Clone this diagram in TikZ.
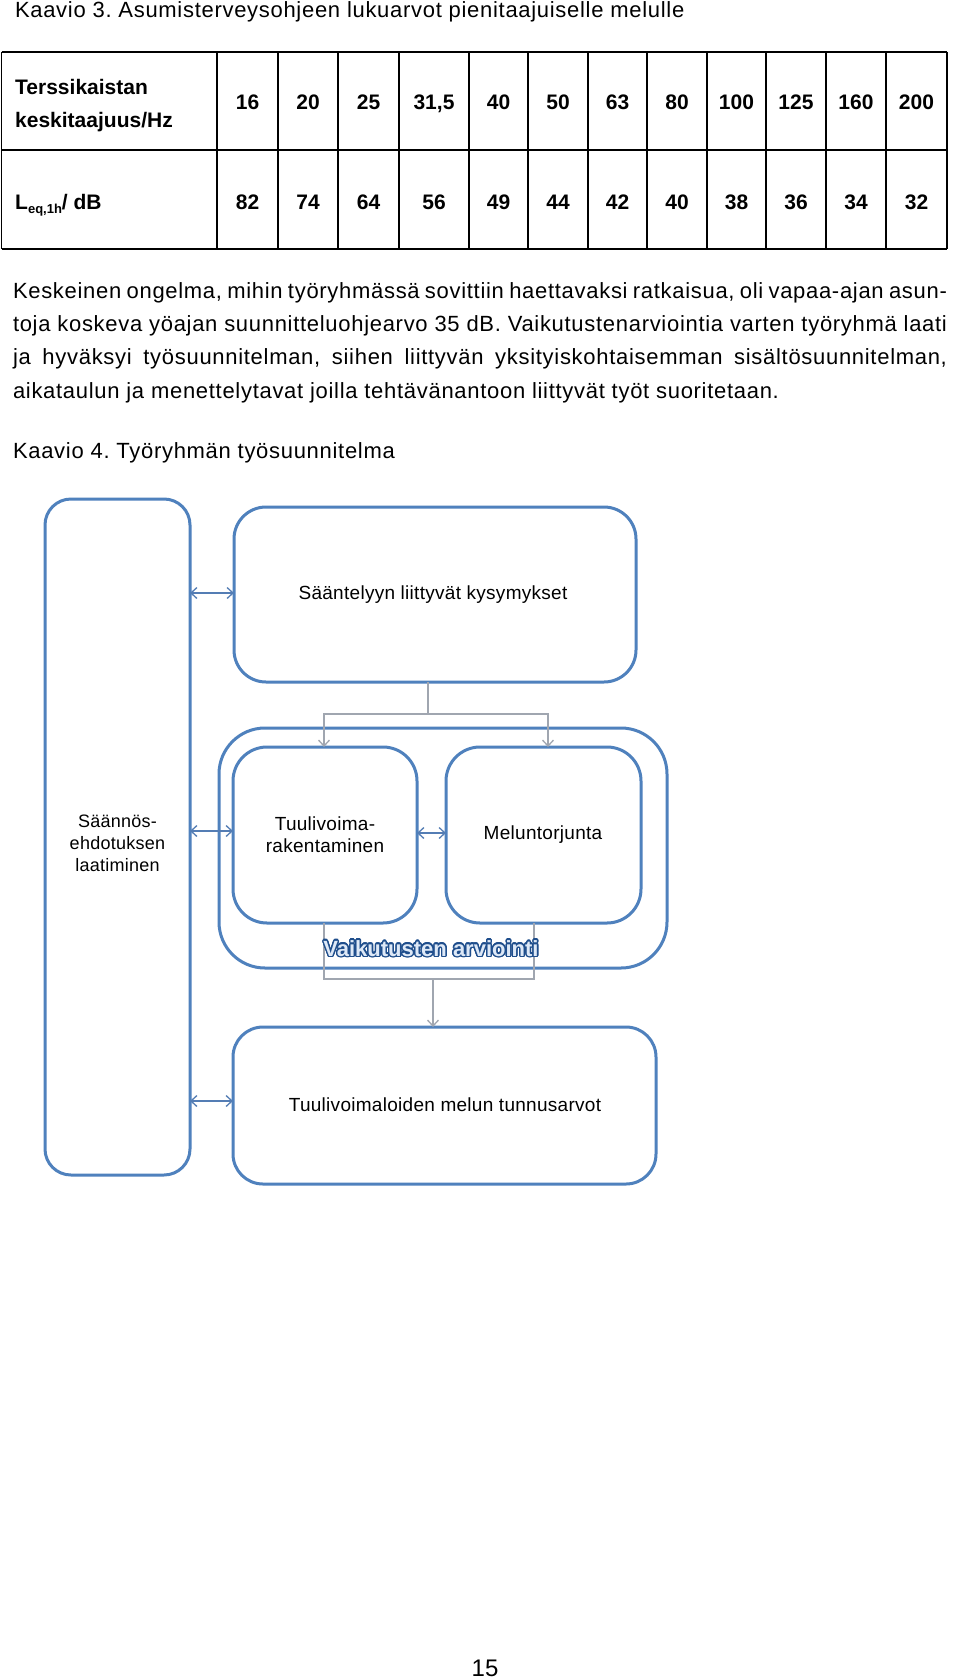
\documentclass[tikz,border=0pt]{standalone}
\usepackage{fontspec}
\setmainfont{Liberation Sans}
\newfontfamily\bodyfont[LetterSpace=3.2]{Liberation Sans}
\newfontfamily\diagfont[LetterSpace=1.5]{Liberation Sans}
\usetikzlibrary{arrows.meta,calc}
\definecolor{boxblue}{RGB}{79,129,189}
\definecolor{conngrey}{RGB}{160,166,176}
\definecolor{arrblue}{RGB}{84,125,180}
\definecolor{vdark}{RGB}{31,78,140}
\definecolor{vlight}{RGB}{222,233,247}
\newcommand{\fsz}[2]{\fontsize{#1pt}{#2pt}\selectfont}
\frenchspacing
\begin{document}
\frenchspacing
\begin{tikzpicture}[x=1pt,y=-1pt,
  rbox/.style={draw=boxblue, line width=3pt, rounded corners=#1, inner sep=0pt, outer sep=0pt},
  tbl/.style={draw=black, line width=1.3pt},
  tblh/.style={draw=black, line width=2pt},
  body/.style={inner sep=0pt, outer sep=0pt, anchor=base west, font=\bodyfont\fsz{22}{26}},
  tnum/.style={inner sep=0pt, anchor=base, font=\fsz{21}{25}\bfseries},
  thead/.style={inner sep=0pt, anchor=base west, font=\fsz{21}{25}\bfseries},
  lbl/.style={inner sep=0pt, align=center, font=\diagfont\fsz{19}{22}},
  vtxt/.style={inner sep=0pt, anchor=base, font=\fsz{22}{26}\bfseries},
  conn/.style={draw=conngrey, line width=1.5pt},
  carrow/.style={conn, -{Straight Barb[length=6pt,width=11pt,line width=1.3pt]}},
  dbl/.style={draw=arrblue, line width=1.4pt, {Straight Barb[length=6pt,width=11pt,line width=1.3pt]}-{Straight Barb[length=6pt,width=11pt,line width=1.3pt]}}
]
\useasboundingbox (0,0) rectangle (960,1678);
\fill[white] (0,0) rectangle (960,1678);

% ---- title ----
\node[body] (t3) at (15,18) {Kaavio 3. Asumisterveysohjeen lukuarvot pienitaajuiselle melulle};

% ---- table ----
\draw[tblh] (1.5,52) -- (947,52);
\draw[tbl] (1.5,150) -- (947,150);
\draw[tblh] (1.5,249) -- (947,249);
\foreach \xx in {1.5,217,278,338,399,469,528,588,647,707,766,826,886,947}
  \draw[tbl] (\xx,52) -- (\xx,249);

\node[thead] (h1) at (15,94) {Terssikaistan};
\node[thead] (h2) at (15,127) {keskitaajuus/Hz};
\node[thead] (h3) at (15,209) {L\raisebox{-4pt}{\fsz{13}{15}\bfseries eq,1h}/ dB};

\foreach \v/\c [count=\i] in {16/247.5,20/308,25/368.5,{31,5}/434,40/498.5,50/558,63/617.5,80/677,100/736.5,125/796,160/856,200/916.5}
  \node[tnum] (ra\i) at (\c,109) {\v};
\foreach \v/\c [count=\i] in {82/247.5,74/308,64/368.5,56/434,49/498.5,44/558,42/617.5,40/677,38/736.5,36/796,34/856,32/916.5}
  \node[tnum] (rb\i) at (\c,209) {\v};

% ---- paragraph ----
\node[body] (p1) at (13,298) {\makebox[934pt][s]{Keskeinen ongelma, mihin työryhmässä sovittiin haettavaksi ratkaisua, oli vapaa-ajan asun-}};
\node[body] (p2) at (13,331) {\makebox[934pt][s]{toja koskeva yöajan suunnitteluohjearvo 35 dB. Vaikutustenarviointia varten työryhmä laati}};
\node[body] (p3) at (13,364) {\makebox[934pt][s]{ja hyväksyi työsuunnitelman, siihen liittyvän yksityiskohtaisemman sisältösuunnitelman,}};
\node[body] (p4) at (13,398) {aikataulun ja menettelytavat joilla tehtävänantoon liittyvät työt suoritetaan.};
\node[body] (k4) at (13,458) {Kaavio 4. Työryhmän työsuunnitelma};

% ---- diagram boxes ----
\node[rbox=26pt, minimum width=145pt, minimum height=676pt] (left) at (117.5,837) {};
\node[rbox=32pt, minimum width=402pt, minimum height=175pt] (top) at (435,594.5) {};
\node[rbox=46pt, minimum width=448pt, minimum height=240pt] (outer) at (443,848) {};
\node[rbox=34pt, minimum width=184pt, minimum height=176pt] (inL) at (325,835) {};
\node[rbox=34pt, minimum width=195pt, minimum height=176pt] (inR) at (543.5,835) {};
\node[rbox=30pt, minimum width=423pt, minimum height=157pt] (bot) at (444.5,1105.5) {};

% ---- labels ----
\node[lbl, font=\diagfont\fsz{18}{22}] (leftlbl) at (117.5,843) {Säännös-\\ehdotuksen\\laatiminen};
\node[lbl] (toplbl) at (433,595) {Sääntelyyn liittyvät kysymykset};
\node[lbl] (inLlbl) at (325,835) {Tuulivoima-\\rakentaminen};
\node[lbl] (inRlbl) at (543,835) {Meluntorjunta};
\node[lbl] (botlbl) at (445,1105) {Tuulivoimaloiden melun tunnusarvot};

% ---- connectors ----
\coordinate (tj) at (428,714);
\draw[conn] ([xshift=-7pt]top.south) -- (tj);
\draw[carrow] (tj) -| ([xshift=-1pt]inL.north);
\draw[carrow] (tj) -| ([xshift=4.5pt]inR.north);

\coordinate (bl) at (324,979);
\coordinate (br) at (534,979);
\coordinate (bm) at (433,979);
\draw[conn] (bl |- inL.south) -- (bl) -- (br) -- (br |- inR.south);
\draw[carrow] (bm) -- (bm |- bot.north);

\draw[dbl] ([yshift=1.5pt]top.west -| left.east) -- ([yshift=1.5pt]top.west);
\draw[dbl] ([yshift=4pt]inL.west -| left.east) -- ([yshift=4pt]inL.west);
\draw[dbl] ([yshift=2pt]inL.east) -- ([yshift=2pt]inR.west);
\draw[dbl] ([yshift=4.5pt]bot.west -| left.east) -- ([yshift=4.5pt]bot.west);

% ---- outlined title text ----
\foreach \i in {0,...,15}
  \node[vtxt, text=vdark] (vo\i) at ($(431,956)+(\i*22.5:1.4pt)$) {Vaikutusten arviointi};
\node[vtxt, text=vlight] (vaik) at (431,956) {Vaikutusten arviointi};

% ---- page number ----
\node[inner sep=0pt, anchor=base, font=\fsz{24}{28}] (pnum) at (485,1676) {15};
\end{tikzpicture}
\end{document}
